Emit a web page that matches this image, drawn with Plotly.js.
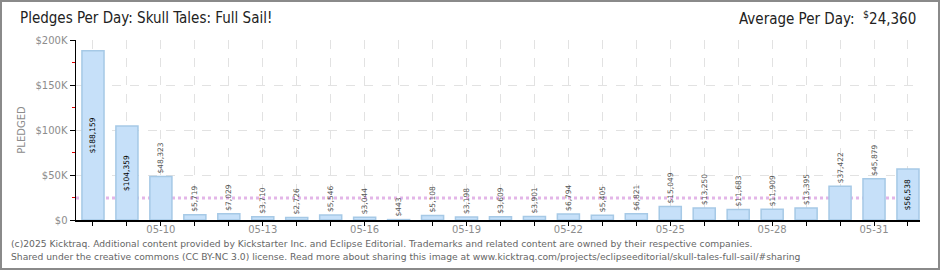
<!DOCTYPE html>
<html>
<head>
<meta charset="utf-8">
<script src="https://cdn.plot.ly/plotly-3.0.1.min.js"></script>
<style>
html,body{margin:0;padding:0;background:#fff;}
#wrap{position:relative;width:940px;height:270px;}
#chart{width:940px;height:270px;}
#frame{position:absolute;left:0;top:0;width:940px;height:270px;box-sizing:border-box;border:2px solid #8a8a8a;pointer-events:none;}
</style>
</head>
<body>
<div id="wrap"><div id="chart"></div><div id="frame"></div></div>
<script>
// ---- data ----
const dates = ['2025-05-08','2025-05-09','2025-05-10','2025-05-11','2025-05-12','2025-05-13','2025-05-14',
  '2025-05-15','2025-05-16','2025-05-17','2025-05-18','2025-05-19','2025-05-20','2025-05-21','2025-05-22',
  '2025-05-23','2025-05-24','2025-05-25','2025-05-26','2025-05-27','2025-05-28','2025-05-29','2025-05-30',
  '2025-05-31','2025-06-01'];
const pledges = [188159,104359,48323,5719,7029,3710,2726,5546,3044,443,5108,3198,3609,3901,6794,
  5405,6821,15049,13250,11683,11909,13395,37422,45879,56538];
const averagePerDay = 24360;
const yTickVals = [0,50000,100000,150000,200000];
const yTickText = ['$0','$50K','$100K','$150K','$200K'];
const titleText = 'Pledges Per Day: Skull Tales: Full Sail!';
const avgLabel = 'Average Per Day:  <sup>$</sup>24,360';
const footer1 = '(c)2025 Kicktraq. Additional content provided by Kickstarter Inc. and Eclipse Editorial. Trademarks and related content are owned by their respective companies.';
const footer2 = 'Shared under the creative commons (CC BY-NC 3.0) license. Read more about sharing this image at www.kicktraq.com/projects/eclipseeditorial/skull-tales-full-sail/#sharing';

// ---- chart ----
const L = 76, R = 20, T = 40, B = 50, W = 940, H = 270;
const pw = W - L - R, ph = H - T - B;
const px2x = p => (p - L) / pw;
const px2y = p => 1 - (p - T) / ph;

const tickFont = {family: 'DejaVu Sans, sans-serif', size: 10, color: '#8c8c8c'};
const titleFont = {family: '"Liberation Sans Narrow", "DejaVu Sans Condensed", "Roboto Condensed", sans-serif', size: 15, color: '#222'};
const footFont = {family: 'DejaVu Sans, sans-serif', size: 9.2, color: '#666'};

const trace = {
  type: 'bar',
  x: dates,
  y: pledges,
  marker: {color: '#c6e0f9', line: {color: '#a6c9e6', width: 1.5}},
  texttemplate: '$%{y:,}',
  textposition: pledges.map(v => v > 50000 ? 'inside' : 'outside'),
  insidetextanchor: 'middle',
  textangle: -90,
  insidetextfont: {family: 'DejaVu Sans, sans-serif', size: 7.5, color: '#000'},
  outsidetextfont: {family: 'DejaVu Sans, sans-serif', size: 7.5, color: '#555'},
  cliponaxis: false,
  constraintext: 'none',
  hoverinfo: 'skip'
};

const layout = {
  width: W, height: H,
  margin: {l: L, r: R, t: T, b: B},
  paper_bgcolor: '#fff', plot_bgcolor: '#fff',
  showlegend: false,
  bargap: 0.35,
  title: {text: titleText, font: titleFont, xref: 'container', yref: 'container',
          x: 20/940, xanchor: 'left', y: 1 - 18/270, yanchor: 'middle'},
  xaxis: {
    type: 'date',
    range: ['2025-05-07 12:00', '2025-06-01 08:30'],
    tick0: '2025-05-10', dtick: 3*86400000,
    tickformat: '%m-%d',
    ticks: 'outside', ticklen: 4, tickcolor: '#000', tickwidth: 1,
    ticklabelstandoff: -5,
    tickfont: tickFont,
    showgrid: true, gridcolor: '#e2e2e2', griddash: 'dash', gridwidth: 1,
    minor: {dtick: 86400000, tick0: '2025-05-08', ticks: 'outside', ticklen: 4, tickcolor: '#000',
            showgrid: true, gridcolor: '#e2e2e2', griddash: 'dash', gridwidth: 1},
    showline: true, linecolor: '#000', linewidth: 1.5,
    zeroline: false, fixedrange: true
  },
  yaxis: {
    range: [0, 200000],
    tickvals: yTickVals, ticktext: yTickText,
    ticks: 'outside', ticklen: 5, tickcolor: '#000', tickwidth: 1,
    tickfont: tickFont,
    showgrid: true, gridcolor: '#e2e2e2', griddash: 'dash', gridwidth: 1,
    minor: {dtick: 25000, ticks: 'outside', ticklen: 3, tickcolor: '#e00000', showgrid: false},
    showline: true, linecolor: '#000', linewidth: 1.5,
    zeroline: false, fixedrange: true,
    title: {text: 'PLEDGED', font: {family: 'DejaVu Sans, sans-serif', size: 10, color: '#8c8c8c'}, standoff: 8}
  },
  shapes: [{
    type: 'line', xref: 'paper', x0: 0, x1: 1, yref: 'y', y0: averagePerDay, y1: averagePerDay,
    line: {color: '#e3b6e8', width: 3, dash: 'dot'}, layer: 'below'
  }],
  annotations: [
    {text: avgLabel, xref: 'paper', yref: 'paper', x: px2x(918), y: px2y(18), xanchor: 'right', yanchor: 'middle',
     showarrow: false, font: titleFont},
    {text: footer1, xref: 'paper', yref: 'paper', x: px2x(9), y: px2y(243), xanchor: 'left', yanchor: 'middle',
     showarrow: false, font: footFont},
    {text: footer2, xref: 'paper', yref: 'paper', x: px2x(9), y: px2y(256), xanchor: 'left', yanchor: 'middle',
     showarrow: false, font: footFont}
  ]
};

Plotly.newPlot('chart', [trace], layout, {displayModeBar: false, staticPlot: true});
</script>
</body>
</html>
